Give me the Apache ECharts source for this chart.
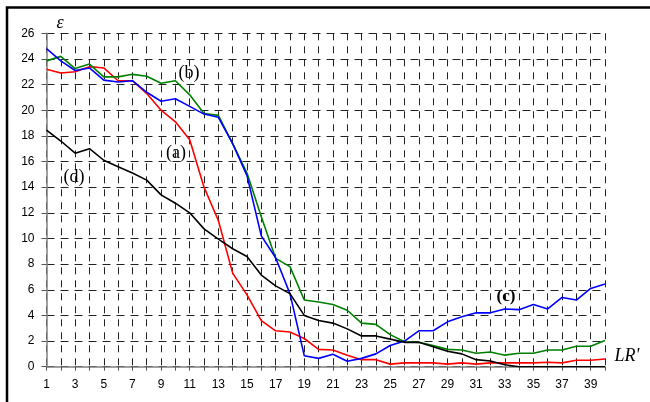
<!DOCTYPE html>
<html>
<head>
<meta charset="utf-8">
<script src="https://cdn.jsdelivr.net/npm/echarts@6/dist/echarts.min.js"></script>
<style>html,body{margin:0;padding:0;background:#fff}#c{width:650px;height:402px}</style>
</head>
<body>
<div id="c"></div>
<script>
var categories = [];
for (var i = 1; i <= 40; i++) categories.push(String(i));

var seriesA = [23.2,22.9,23.0,23.4,23.3,22.3,22.3,21.3,20.0,19.1,17.7,14.0,11.4,7.3,5.6,3.6,2.8,2.7,2.2,1.35,1.3,0.9,0.55,0.55,0.2,0.3,0.3,0.3,0.2,0.3,0.2,0.3,0.3,0.3,0.3,0.35,0.3,0.5,0.5,0.6];
var seriesB = [23.85,24.2,23.25,23.6,22.6,22.6,22.8,22.65,22.1,22.3,21.2,19.75,19.6,17.4,15.1,11.7,8.45,7.8,5.2,5.05,4.85,4.4,3.4,3.3,2.5,1.95,1.9,1.65,1.35,1.3,1.05,1.15,0.9,1.05,1.05,1.3,1.3,1.6,1.6,2.05];
var seriesC = [24.8,23.85,23.1,23.3,22.35,22.2,22.3,21.4,20.7,20.9,20.3,19.7,19.45,17.4,14.9,10.2,8.5,5.7,0.86,0.65,0.97,0.42,0.65,1.0,1.65,2.0,2.8,2.8,3.5,3.9,4.2,4.2,4.5,4.45,4.85,4.5,5.4,5.2,6.1,6.45];
var seriesD = [18.45,17.6,16.65,17.0,16.1,15.6,15.1,14.55,13.4,12.75,12.0,10.75,9.95,9.2,8.6,7.15,6.3,5.7,4.0,3.6,3.4,2.95,2.4,2.4,2.15,1.9,1.9,1.55,1.2,1.0,0.55,0.45,0.15,0,0,0,0,0,0,0];
var yTicks = {min: 0, max: 26, step: 2};

function line(data, color) {
  return {type: 'line', data: data, symbol: 'none', smooth: false,
    lineStyle: {color: color, width: 1.6}, itemStyle: {color: color}, z: 3};
}

var chart = echarts.init(document.getElementById('c'), null, {renderer: 'canvas'});
chart.setOption({
  backgroundColor: '#fff',
  animation: false,
  grid: {left: 46.5, right: 45, top: 33.3, bottom: 35.3, containLabel: false},
  xAxis: {
    type: 'category', data: categories, boundaryGap: false,
    axisLine: {lineStyle: {color: '#808080', width: 1.5}},
    axisTick: {show: true, interval: 0, length: 4, lineStyle: {color: '#555'}},
    axisLabel: {interval: 1, color: '#000', fontFamily: 'Liberation Sans', fontSize: 12, margin: 12},
    splitLine: {show: true, interval: 0, lineStyle: {color: '#222', width: 1, type: [7, 6], dashOffset: 0}}
  },
  yAxis: {
    type: 'value', min: yTicks.min, max: yTicks.max, interval: yTicks.step,
    axisLine: {show: true, lineStyle: {color: '#808080', width: 1.5}},
    axisTick: {show: true, length: 5, lineStyle: {color: '#555'}},
    axisLabel: {color: '#000', fontFamily: 'Liberation Sans', fontSize: 12, margin: 12},
    splitLine: {show: true, lineStyle: {color: '#222', width: 1, type: [8, 6], dashOffset: 0}}
  },
  series: [line(seriesA, '#ff0000'), line(seriesB, '#008000'), line(seriesC, '#0000ff'), line(seriesD, '#000000')],
  graphic: [
    {type: 'rect', shape: {x: 7, y: 7.5, width: 660, height: 420}, style: {fill: 'none', stroke: '#000', lineWidth: 2.5}, silent: true},
    {type: 'text', x: 60, y: 23, style: {text: 'ε', font: 'italic 18px "Liberation Serif"', fill: '#000', textAlign: 'center', textVerticalAlign: 'middle'}},
    {type: 'text', x: 627, y: 356, style: {text: "LR'", font: 'italic 18px "Liberation Serif"', fill: '#000', textAlign: 'center', textVerticalAlign: 'middle'}},
    {type: 'text', x: 189, y: 73, style: {text: '(b)', font: '18px "Liberation Serif"', fill: '#000', textAlign: 'center', textVerticalAlign: 'middle'}},
    {type: 'text', x: 176, y: 153, style: {text: '(a)', font: '18px "Liberation Serif"', fill: '#000', textAlign: 'center', textVerticalAlign: 'middle'}},
    {type: 'text', x: 74, y: 177, style: {text: '(d)', font: '18px "Liberation Serif"', fill: '#000', textAlign: 'center', textVerticalAlign: 'middle'}},
    {type: 'text', x: 506, y: 297, style: {text: '(c)', font: 'bold 17px "Liberation Serif"', fill: '#000', textAlign: 'center', textVerticalAlign: 'middle'}}
  ]
});
</script>
</body>
</html>
